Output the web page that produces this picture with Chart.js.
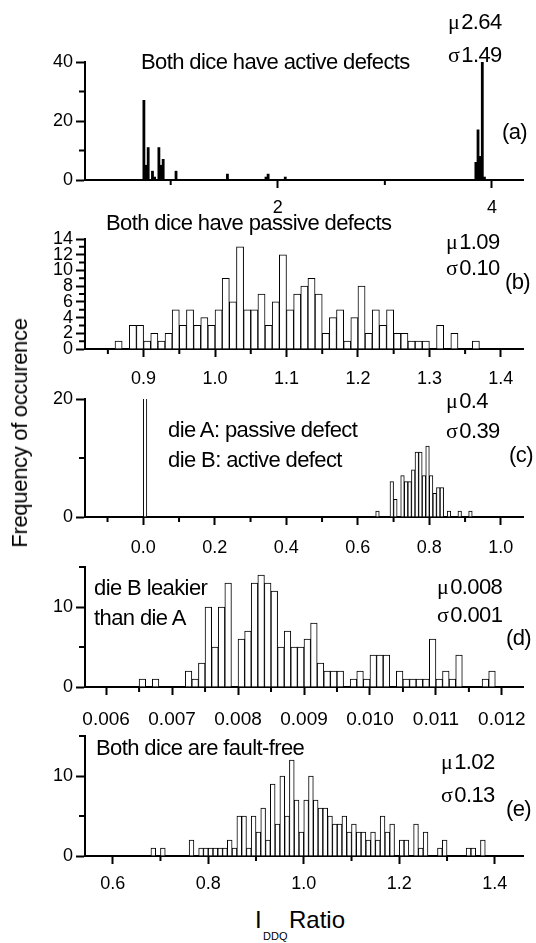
<!DOCTYPE html>
<html lang="en">
<head>
<meta charset="UTF-8">
<title>IDDQ ratio histograms</title>
<script src="https://cdn.jsdelivr.net/npm/chart.js"></script>
<style>
  body { margin: 0; background: #fff; }
  #figure { position: relative; width: 536px; height: 943px; overflow: hidden; color: #000;
            font-family: "Liberation Sans", Arial, sans-serif; }
  #figure canvas { position: absolute; left: 0; }
  .note { position: absolute; white-space: nowrap; font-size: 22px; line-height: 22px; letter-spacing: -0.6px; }
  .g { font-family: "Liberation Serif", "Times New Roman", serif; margin-right: 2px; }
  #ytitle { position: absolute; left: 20px; top: 433px; font-size: 22px; line-height: 22px; white-space: nowrap;
            letter-spacing: -0.3px; transform: translate(-50%, -50%) rotate(-90deg); }
  .xt { position: absolute; white-space: nowrap; font-size: 24px; line-height: 24px; }
  .sub { position: absolute; white-space: nowrap; font-size: 11px; line-height: 11px; }
</style>
</head>
<body>
<div id="figure">
  <canvas id="chartA" width="536" height="215"></canvas>
  <canvas id="chartB" width="536" height="180"></canvas>
  <canvas id="chartC" width="536" height="180"></canvas>
  <canvas id="chartD" width="536" height="185"></canvas>
  <canvas id="chartE" width="536" height="175"></canvas>

  <!-- (a) -->
  <div class="note" style="left:141px; top:51px">Both dice have active defects</div>
  <div class="note" style="left:448px; top:11px"><span class="g">μ</span>2.64</div>
  <div class="note" style="left:448px; top:44px"><span class="g">σ</span>1.49</div>
  <div class="note" style="left:502px; top:121px">(a)</div>
  <!-- (b) -->
  <div class="note" style="left:106px; top:212px">Both dice have passive defects</div>
  <div class="note" style="left:446px; top:231px"><span class="g">μ</span>1.09</div>
  <div class="note" style="left:446px; top:257px"><span class="g">σ</span>0.10</div>
  <div class="note" style="left:505px; top:271px">(b)</div>
  <!-- (c) -->
  <div class="note" style="left:168px; top:419px">die A: passive defect</div>
  <div class="note" style="left:168px; top:449px">die B: active defect</div>
  <div class="note" style="left:446px; top:390px"><span class="g">μ</span>0.4</div>
  <div class="note" style="left:446px; top:420px"><span class="g">σ</span>0.39</div>
  <div class="note" style="left:509px; top:444px">(c)</div>
  <!-- (d) -->
  <div class="note" style="left:94px; top:577px">die B leakier</div>
  <div class="note" style="left:94px; top:607px">than die A</div>
  <div class="note" style="left:437px; top:576px"><span class="g">μ</span>0.008</div>
  <div class="note" style="left:437px; top:604px"><span class="g">σ</span>0.001</div>
  <div class="note" style="left:506px; top:627px">(d)</div>
  <!-- (e) -->
  <div class="note" style="left:96px; top:737px">Both dice are fault-free</div>
  <div class="note" style="left:441px; top:751px"><span class="g">μ</span>1.02</div>
  <div class="note" style="left:441px; top:784px"><span class="g">σ</span>0.13</div>
  <div class="note" style="left:506px; top:798px">(e)</div>

  <div id="ytitle">Frequency of occurence</div>
  <div class="xt" style="left:255px; top:908px">I</div>
  <div class="sub" style="left:263px; top:931px">DDQ</div>
  <div class="xt" style="left:289px; top:908px">Ratio</div>
</div>

<script>
// (a) both dice have active defects -- bin centres and counts
const binsA = [0.75, 0.77, 0.79, 0.83, 0.85, 0.89, 0.91, 0.93, 1.05, 1.53, 1.89, 1.91, 2.07,
               3.85, 3.87, 3.89, 3.91, 3.93];
const countsA = [27, 5, 11, 3, 1, 11, 5, 7, 3, 2, 1, 2, 1, 6, 17, 8, 40, 1];
const xTicksA = [2, 4];
const xMinorA = [1, 3];

// (b) both dice have passive defects
const binsB = [0.865, 0.885, 0.895, 0.905, 0.915, 0.925, 0.935, 0.945, 0.955, 0.965,
               0.975, 0.985, 0.995, 1.005, 1.015, 1.025, 1.035, 1.045, 1.055, 1.065,
               1.075, 1.085, 1.095, 1.105, 1.115, 1.125, 1.135, 1.145, 1.155, 1.165,
               1.175, 1.185, 1.195, 1.205, 1.215, 1.225, 1.235, 1.245, 1.255, 1.265,
               1.275, 1.285, 1.295, 1.315, 1.335, 1.365];
const countsB = [1, 3, 3, 1, 2, 1, 2, 5, 3, 5,
                 3, 4, 3, 5, 9, 6, 13, 5, 5, 7,
                 3, 6, 12, 5, 7, 8, 9, 7, 2, 4,
                 5, 1, 4, 8, 2, 5, 3, 5, 2, 2,
                 1, 1, 1, 3, 2, 1];
const xTicksB = [0.9, 1.0, 1.1, 1.2, 1.3, 1.4];
const xMinorB = [0.85, 0.95, 1.05, 1.15, 1.25, 1.35];

// (c) die A passive, die B active (the bar at zero runs off the top)
const binsC = [0.005, 0.655, 0.695, 0.705, 0.725, 0.735, 0.745, 0.755, 0.765, 0.775,
               0.785, 0.795, 0.805, 0.815, 0.825, 0.835, 0.855, 0.885, 0.915];
const countsC = [95, 1, 6, 3, 7, 6, 6, 8, 11, 11, 7, 12, 7, 4, 5, 5, 1, 1, 1];
const xTicksC = [0.0, 0.2, 0.4, 0.6, 0.8, 1.0];
const xMinorC = [-0.1, 0.1, 0.3, 0.5, 0.7, 0.9];

// (d) die B leakier than die A
const binsD = [0.00655, 0.00675, 0.00725, 0.00735, 0.00745, 0.00755, 0.00765, 0.00775, 0.00785, 0.00805,
               0.00815, 0.00825, 0.00835, 0.00845, 0.00855, 0.00865, 0.00875, 0.00885, 0.00895, 0.00905,
               0.00915, 0.00925, 0.00935, 0.00945, 0.00955, 0.00975, 0.00985, 0.00995, 0.01005, 0.01015,
               0.01025, 0.01045, 0.01055, 0.01065, 0.01075, 0.01085, 0.01095, 0.01105, 0.01115, 0.01125,
               0.01135, 0.01175, 0.01185];
const countsD = [1, 1, 2, 1, 3, 10, 5, 10, 13, 6,
                 7, 13, 14, 13, 12, 5, 7, 5, 5, 6,
                 8, 3, 2, 2, 2, 1, 2, 1, 4, 4,
                 4, 2, 1, 1, 1, 1, 6, 1, 2, 1,
                 4, 1, 2];
const xTicksD = [0.006, 0.007, 0.008, 0.009, 0.010, 0.011, 0.012];
const xMinorD = [0.0065, 0.0075, 0.0085, 0.0095, 0.0105, 0.0115];

// (e) both dice fault-free
const binsE = [0.685, 0.705, 0.765, 0.785, 0.795, 0.805, 0.815, 0.825, 0.835, 0.845,
               0.855, 0.865, 0.875, 0.885, 0.895, 0.905, 0.915, 0.925, 0.935, 0.945,
               0.955, 0.965, 0.975, 0.985, 0.995, 1.005, 1.015, 1.025, 1.035, 1.045,
               1.055, 1.065, 1.075, 1.085, 1.095, 1.105, 1.115, 1.125, 1.135, 1.145,
               1.155, 1.165, 1.175, 1.185, 1.205, 1.215, 1.235, 1.245, 1.255, 1.285,
               1.295, 1.345, 1.355, 1.375];
const countsE = [1, 1, 2, 1, 1, 1, 1, 1, 1, 2,
                 1, 5, 5, 1, 5, 3, 6, 2, 9, 4,
                 10, 5, 12, 7, 3, 7, 10, 7, 6, 6,
                 5, 4, 4, 5, 3, 4, 3, 3, 2, 3,
                 2, 5, 3, 4, 2, 2, 4, 1, 3, 1,
                 2, 1, 1, 2];
const xTicksE = [0.6, 0.8, 1.0, 1.2, 1.4];
const xMinorE = [0.7, 0.9, 1.1, 1.3];

const FONT = '"Liberation Sans", Arial, sans-serif';

// short outward tick marks between the labelled ones
const minorTicks = {
  id: 'minorTicks',
  afterDraw(chart, args, opts) {
    const { ctx } = chart;
    const { x, y } = chart.scales;
    ctx.save();
    ctx.strokeStyle = '#000';
    ctx.lineWidth = 2;
    ctx.beginPath();
    (opts.x || []).forEach(v => {
      const px = x.getPixelForValue(v);
      ctx.moveTo(px, x.top);
      ctx.lineTo(px, x.top + 5);
    });
    (opts.y || []).forEach(v => {
      const py = y.getPixelForValue(v);
      ctx.moveTo(y.right, py);
      ctx.lineTo(y.right - 6, py);
    });
    ctx.stroke();
    ctx.restore();
  }
};

function makePanel(id, p) {
  const canvas = document.getElementById(id);
  canvas.style.top = p.canvasTop + 'px';
  const axisH = p.canvasTop + canvas.height - p.areaBottom;

  return new Chart(canvas, {
    type: 'bar',
    data: {
      datasets: [{
        data: p.bins.map((b, i) => ({ x: b, y: p.counts[i] })),
        backgroundColor: p.fill,
        borderColor: '#000',
        borderWidth: p.fill === '#000' ? 0 : 1,
        barPercentage: 1,
        categoryPercentage: 1,
        clip: 0
      }]
    },
    options: {
      responsive: false,
      animation: false,
      devicePixelRatio: 1,
      layout: { padding: { left: 0, right: 13, top: p.areaTop - p.canvasTop, bottom: 0 } },
      plugins: {
        legend: { display: false },
        tooltip: { enabled: false },
        minorTicks: { x: p.xMinor, y: p.yMinor }
      },
      scales: {
        x: {
          type: 'linear',
          min: p.xMin,
          max: p.xMax,
          offset: false,
          afterBuildTicks: s => { s.ticks = p.xTicks.map(v => ({ value: v })); },
          afterFit: s => { s.height = axisH; s.paddingLeft = 0; s.paddingRight = 0; },
          grid: { offset: false, drawOnChartArea: false, tickLength: 8, tickWidth: 2, tickColor: '#000' },
          border: { color: '#000', width: 2 },
          ticks: {
            autoSkip: false, maxRotation: 0, padding: p.labelPad, color: '#000',
            font: { family: FONT, size: p.labelSize || 18 },
            callback: v => v.toFixed(p.decimals)
          }
        },
        y: {
          min: 0,
          max: p.yMax,
          offset: false,
          afterBuildTicks: s => { s.ticks = p.yTicks.map(v => ({ value: v })); },
          afterFit: s => { s.width = 85; s.paddingTop = 0; s.paddingBottom = 0; },
          grid: { offset: false, drawOnChartArea: false, tickLength: 9, tickWidth: 2, tickColor: '#000' },
          border: { color: '#000', width: 2 },
          ticks: {
            autoSkip: false, padding: 3, color: '#000',
            font: { family: FONT, size: 18 },
            callback: v => String(v)
          }
        }
      }
    },
    plugins: [minorTicks]
  });
}

makePanel('chartA', {
  bins: binsA, counts: countsA, fill: '#000',
  canvasTop: 0, areaTop: 62, areaBottom: 180,
  xMin: 0.2, xMax: 4.29, xTicks: xTicksA, xMinor: xMinorA, decimals: 0, labelPad: 9,
  yMax: 40, yTicks: [0, 20, 40], yMinor: [10, 30]
});

makePanel('chartB', {
  bins: binsB, counts: countsB, fill: '#fff',
  canvasTop: 215, areaTop: 239, areaBottom: 349,
  xMin: 0.818, xMax: 1.431, xTicks: xTicksB, xMinor: xMinorB, decimals: 1, labelPad: 11,
  yMax: 14, yTicks: [0, 2, 4, 6, 8, 10, 12, 14], yMinor: [1, 3, 5, 7, 9, 11, 13]
});

makePanel('chartC', {
  bins: binsC, counts: countsC, fill: '#fff',
  canvasTop: 380, areaTop: 399, areaBottom: 517,
  xMin: -0.163, xMax: 1.062, xTicks: xTicksC, xMinor: xMinorC, decimals: 1, labelPad: 12,
  yMax: 20, yTicks: [0, 20], yMinor: [10]
});

makePanel('chartD', {
  bins: binsD, counts: countsD, fill: '#fff',
  canvasTop: 550, areaTop: 567, areaBottom: 687,
  xMin: 0.00568, xMax: 0.01232, xTicks: xTicksD, xMinor: xMinorD, decimals: 3, labelPad: 13, labelSize: 19,
  yMax: 15, yTicks: [0, 10], yMinor: [5, 15]
});

makePanel('chartE', {
  bins: binsE, counts: countsE, fill: '#fff',
  canvasTop: 725, areaTop: 736, areaBottom: 856,
  xMin: 0.542, xMax: 1.459, xTicks: xTicksE, xMinor: xMinorE, decimals: 1, labelPad: 9,
  yMax: 15, yTicks: [0, 10], yMinor: [5, 15]
});
</script>
</body>
</html>
